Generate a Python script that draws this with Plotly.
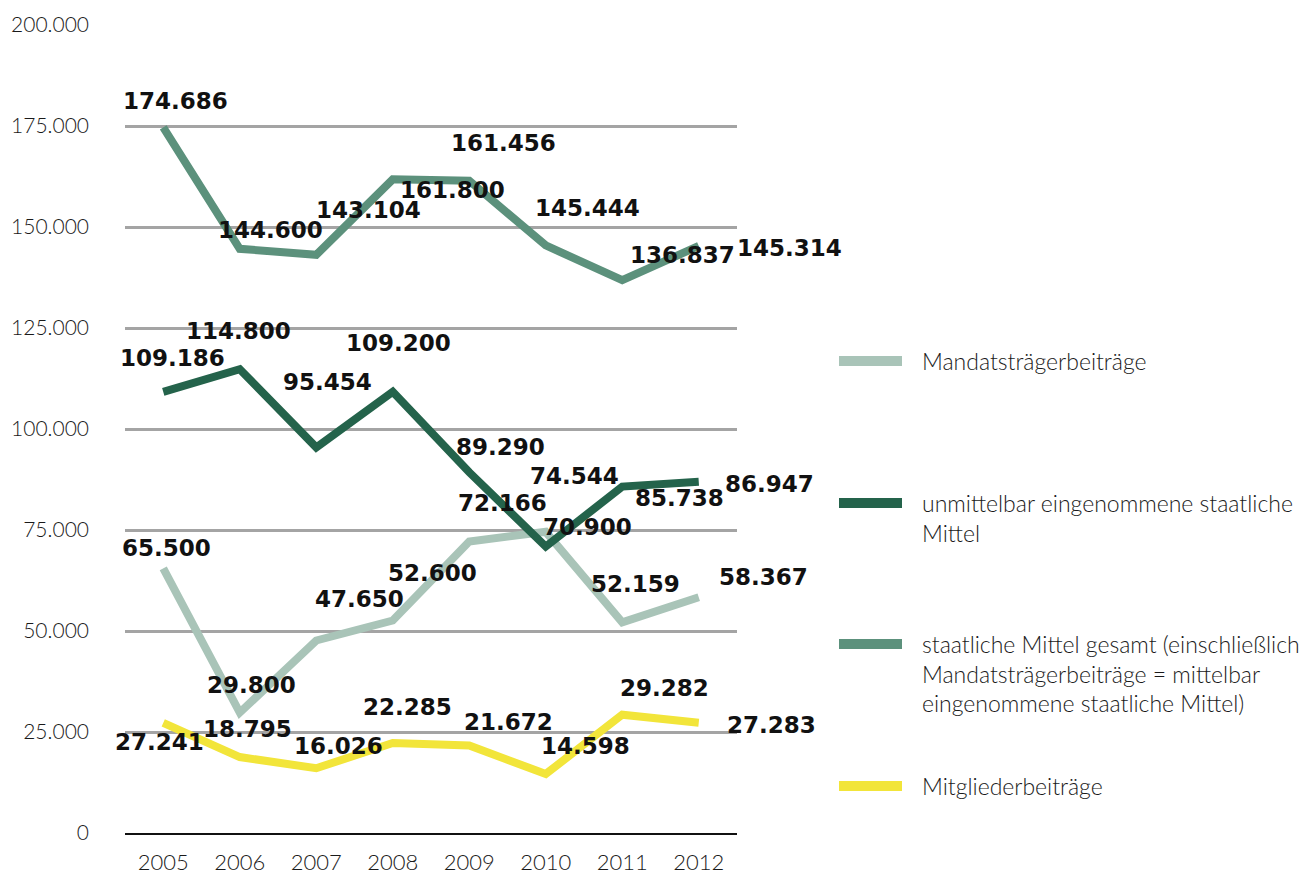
import plotly.graph_objects as go

years = ["2005", "2006", "2007", "2008", "2009", "2010", "2011", "2012"]

mandatstraeger = [65500, 29800, 47650, 52600, 72166, 74544, 52159, 58367]
unmittelbar = [109186, 114800, 95454, 109200, 89290, 70900, 85738, 86947]
staatlich_gesamt = [174686, 144600, 143104, 161800, 161456, 145444, 136837, 145314]
mitglieder = [27241, 18795, 16026, 22285, 21672, 14598, 29282, 27283]

series_names = [
    "Mandatsträgerbeiträge",
    "unmittelbar eingenommene staatliche Mittel",
    "staatliche Mittel gesamt (einschließlich Mandatsträgerbeiträge = mittelbar eingenommene staatliche Mittel)",
    "Mitgliederbeiträge",
]
legend_lines = [
    ["Mandatsträgerbeiträge"],
    ["unmittelbar eingenommene staatliche", "Mittel"],
    ["staatliche Mittel gesamt (einschließlich",
     "Mandatsträgerbeiträge = mittelbar",
     "eingenommene staatliche Mittel)"],
    ["Mitgliederbeiträge"],
]

y_ticks = [0, 25000, 50000, 75000, 100000, 125000, 150000, 175000, 200000]
y_tick_text = ["0", "25.000", "50.000", "75.000", "100.000", "125.000", "150.000", "175.000", "200.000"]

colors = ["#a9c4b8", "#24634b", "#5c917c", "#f2e53a"]
all_series = [mandatstraeger, unmittelbar, staatlich_gesamt, mitglieder]

# label offsets in pixels (dx, dy) relative to each point
label_offsets = [
    [(3, 20), (12, 28), (43, 41), (40, 48), (33, 38), (29, 56), (13, 38), (65, 20)],
    [(9, 34), (-1, 38), (11, 65), (6, 49), (31, 25), (42, 20), (57, -11), (71, -2)],
    [(12, 26), (31, 19), (52, 45), (60, -11), (34, 38), (42, 37), (60, 25), (91, -2)],
    [(-4, -19), (8, 28), (22, 22), (15, 36), (39, 23), (40, 28), (42, 27), (73, -2)],
]


def fmt(v):
    return f"{v:,}".replace(",", ".")


xpos = list(range(len(years)))

fig = go.Figure()
for name, vals, col in zip(series_names, all_series, colors):
    fig.add_trace(go.Scatter(
        x=xpos, y=vals, mode="lines", name=name,
        line=dict(color=col, width=8), showlegend=False,
    ))

annotations = []
for vals, offs in zip(all_series, label_offsets):
    for xi, v, (dx, dy) in zip(xpos, vals, offs):
        annotations.append(dict(
            x=xi, y=v, xref="x", yref="y", text=fmt(v), showarrow=False,
            xshift=dx, yshift=dy,
            font=dict(family="DejaVu Sans", size=23, color="#111111", weight="bold"),
        ))

# page body adds an 8px offset; figure is sized to fit the 1310x878 window
OFF = 8
W, H = 1310 - OFF, 878 - OFF
L, T = 125 - OFF, 25 - OFF
R = W - (737 - OFF)
B = H - (833 - OFF)
pw, ph = W - L - R, H - T - B


def px_x(p):
    return (p - OFF - L) / pw


def px_y(p):
    return (H - B - (p - OFF)) / ph


leg_y = [361, 503, 644, 786]
shapes = []
for col, ly, lines in zip(colors, leg_y, legend_lines):
    shapes.append(dict(type="line", xref="paper", yref="paper",
                       x0=px_x(839), x1=px_x(902), y0=px_y(ly), y1=px_y(ly),
                       line=dict(color=col, width=10)))
    for i, t in enumerate(lines):
        yy = ly + i * 29.5
        annotations.append(dict(
            x=px_x(920), y=px_y(yy),
            xref="paper", yref="paper", xanchor="left", yanchor="middle",
            text=t, showarrow=False,
            font=dict(family="Lato", size=23, color="#1a1a1a", weight=300),
        ))

fig.update_layout(
    width=W, height=H,
    margin=dict(l=L, r=R, t=T, b=B, autoexpand=False),
    paper_bgcolor="white", plot_bgcolor="white",
    xaxis=dict(
        range=[-0.5, 7.5], tickvals=xpos, ticktext=years,
        showgrid=False, showline=True, linecolor="#111111", zeroline=False,
        linewidth=1.5, ticks="", ticklabelstandoff=9, automargin=False,
        tickfont=dict(family="Lato", size=22, color="#1a1a1a", weight=300),
    ),
    yaxis=dict(
        range=[0, 200000], tickvals=y_ticks, ticktext=y_tick_text,
        showgrid=True, gridcolor="#a4a4a4", gridwidth=3, zeroline=False,
        showline=False, ticks="", ticklabelstandoff=35, automargin=False,
        tickfont=dict(family="Lato", size=21, color="#1a1a1a", weight=300),
    ),
    annotations=annotations, shapes=shapes,
    showlegend=False,
)

fig.write_html("out.html")
